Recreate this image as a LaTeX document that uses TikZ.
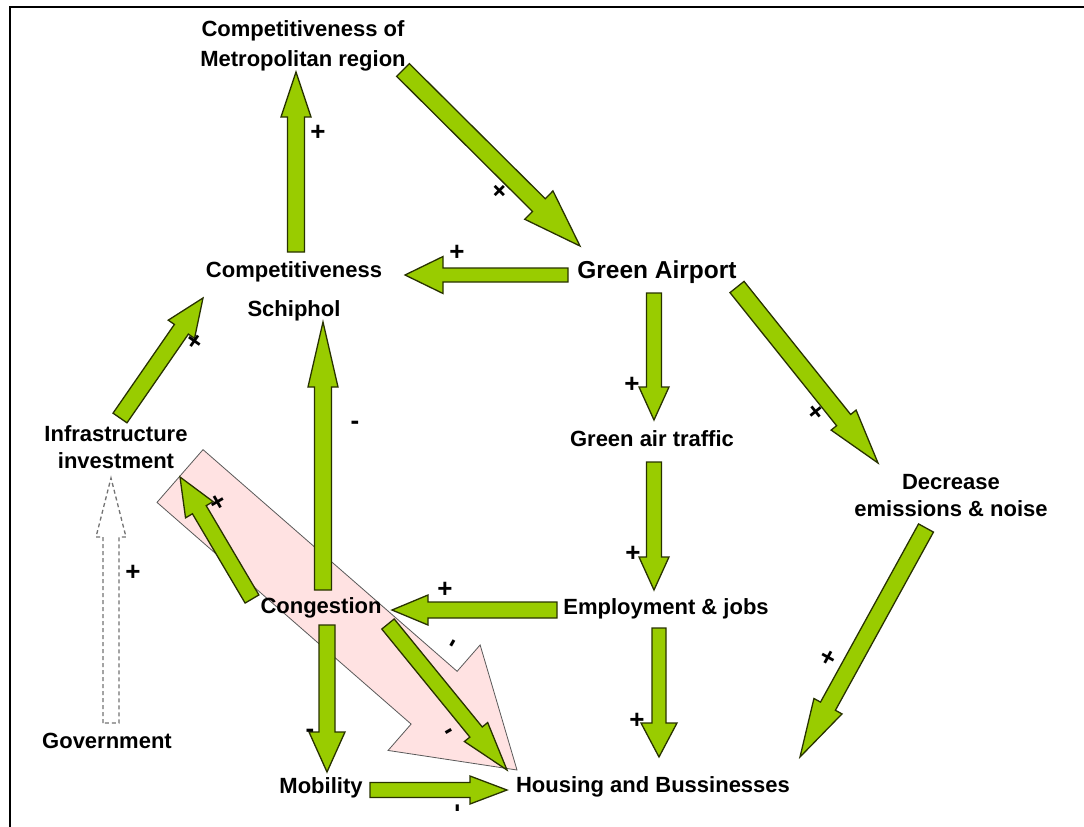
\documentclass[tikz,border=0pt]{standalone}
\usepackage{fontspec}
\setmainfont{Liberation Sans}
\usetikzlibrary{calc}

\definecolor{leafgreen}{RGB}{153,204,0}
\definecolor{leafline}{RGB}{40,50,0}
\definecolor{softpink}{RGB}{255,226,226}

\tikzset{
  concept/.style={font=\bfseries\fontsize{22}{27}\selectfont,align=center,inner sep=1pt},
  sign/.style={font=\bfseries\fontsize{26}{26}\selectfont,inner sep=0pt},
  greenarrow/.style={fill=leafgreen,draw=leafline,line width=1.3pt},
  pinkarrow/.style={fill=softpink,draw=black!65,line width=0.8pt},
  govarrow/.style={fill=white,draw=black!55,dashed,dash pattern=on 4pt off 3pt,line width=1.3pt}
}

% block arrow: [style]{tail}{tip}{half shaft}{half head}{head length}
\newcommand\blockarrow[6][greenarrow]{%
  \coordinate (hb) at ($(#3)!#6pt!(#2)$);
  \draw[#1] ($(#2)!#4pt!90:(#3)$) -- ($(hb)!#4pt!90:(#3)$) -- ($(hb)!#5pt!90:(#3)$)
    -- (#3) -- ($(hb)!#5pt!-90:(#3)$) -- ($(hb)!#4pt!-90:(#3)$) -- ($(#2)!#4pt!-90:(#3)$) -- cycle;}

\begin{document}
\begin{tikzpicture}[x=1pt,y=-1pt]
\useasboundingbox (0,0) rectangle (1084,827);
\draw[line width=2pt] (10,827) -- (10,7) -- (1084,7);

% the big pink one goes under everything
\coordinate (s-infra-hou) at (180,476);
\coordinate (e-infra-hou) at (517,770);
\blockarrow[pinkarrow]{s-infra-hou}{e-infra-hou}{35}{70}{110}

\node[concept] (cmr) at (303,46) {Competitiveness of\\[3pt]Metropolitan region};
\node[concept] (csp) at (294,291) {Competitiveness\\[12pt]Schiphol};
\node[concept,font=\bfseries\fontsize{24.5}{27}\selectfont] (gap) at (657,272) {Green Airport};
\node[concept] (gat) at (652,439) {Green air traffic};
\node[concept] (den) at (951,496) {Decrease\\emissions \& noise};
\node[concept] (emp) at (666,609) {Employment \& jobs};
\node[concept] (hou) at (653,787) {Housing and Bussinesses};
\node[concept] (mob) at (321,788) {Mobility};
\node[concept] (cong) at (321,608) {Congestion};
\node[concept] (infra) at (116,447) {Infrastructure\\investment};
\node[concept] (gov) at (107,741) {Government};

% arrow ends
\coordinate (s-csp-cmr) at (296,252);  \coordinate (e-csp-cmr) at (296,72);
\coordinate (s-cmr-gap) at (403,70);   \coordinate (e-cmr-gap) at (580,246);
\coordinate (s-gap-csp) at (568,275);  \coordinate (e-gap-csp) at (405,275);
\coordinate (s-gap-gat) at (654,293);  \coordinate (e-gap-gat) at (654,420);
\coordinate (s-gat-emp) at (654,462);  \coordinate (e-gat-emp) at (654,590);
\coordinate (s-gap-den) at (737,287);  \coordinate (e-gap-den) at (878,463);
\coordinate (s-den-hou) at (926,528);  \coordinate (e-den-hou) at (800,757);
\coordinate (s-emp-hou) at (659,628);  \coordinate (e-emp-hou) at (659,757);
\coordinate (s-emp-cong) at (557,610); \coordinate (e-emp-cong) at (392,610);
\coordinate (s-cong-csp) at (323,590); \coordinate (e-cong-csp) at (323,322);
\coordinate (s-cong-infra) at (252,599); \coordinate (e-cong-infra) at (180,477);
\coordinate (s-infra-csp) at (120,418); \coordinate (e-infra-csp) at (203,298);
\coordinate (s-gov-infra) at (111,723); \coordinate (e-gov-infra) at (111,478);
\coordinate (s-cong-mob) at (327,625); \coordinate (e-cong-mob) at (327,772);
\coordinate (s-cong-hou) at (388,624); \coordinate (e-cong-hou) at (507,770);
\coordinate (s-mob-hou) at (370,790);  \coordinate (e-mob-hou) at (507,790);

\blockarrow{s-csp-cmr}{e-csp-cmr}{8.5}{15}{45}
\blockarrow{s-cmr-gap}{e-cmr-gap}{9}{20}{58}
\blockarrow{s-gap-csp}{e-gap-csp}{7}{18.5}{38}
\blockarrow{s-gap-gat}{e-gap-gat}{7.5}{15}{33}
\blockarrow{s-gat-emp}{e-gat-emp}{7.5}{15}{33}
\blockarrow{s-gap-den}{e-gap-den}{9}{16}{55}
\blockarrow{s-den-hou}{e-den-hou}{8.5}{16}{58}
\blockarrow{s-emp-hou}{e-emp-hou}{7}{18}{34}
\blockarrow{s-emp-cong}{e-emp-cong}{8}{15}{36}
\blockarrow{s-cong-csp}{e-cong-csp}{8.5}{15}{65}
\blockarrow{s-cong-infra}{e-cong-infra}{8}{16}{38}
\blockarrow{s-infra-csp}{e-infra-csp}{8.5}{16}{38}
\blockarrow[govarrow]{s-gov-infra}{e-gov-infra}{8}{15}{59}
\blockarrow{s-cong-mob}{e-cong-mob}{8}{18}{40}
\blockarrow{s-cong-hou}{e-cong-hou}{8}{15}{49}
\blockarrow{s-mob-hou}{e-mob-hou}{7.5}{14}{37}

% signs
\node[sign] (sg1) at (318,133) {+};
\node[sign,rotate=45] (sg2) at (500,192) {+};
\node[sign] (sg3) at (457,253) {+};
\node[sign] (sg4) at (632,385) {+};
\node[sign] (sg5) at (633,554) {+};
\node[sign,rotate=-51] (sg6) at (815,413) {+};
\node[sign,rotate=-29] (sg7) at (828,659) {+};
\node[sign] (sg8) at (637,721) {+};
\node[sign] (sg9) at (445,590) {+};
\node[sign] (sg10) at (355,425) {-};
\node[sign,rotate=30] (sg11) at (218,503) {+};
\node[sign,rotate=55] (sg12) at (196,342) {+};
\node[sign] (sg13) at (133,573) {+};
\node[sign] (sg14) at (310,733) {-};
\node[sign,rotate=60] (sg15) at (455,645) {-};
\node[sign,rotate=30] (sg16) at (450,734) {-};
\node[sign,rotate=90] (sg17) at (460,808) {-};
\end{tikzpicture}
\end{document}
